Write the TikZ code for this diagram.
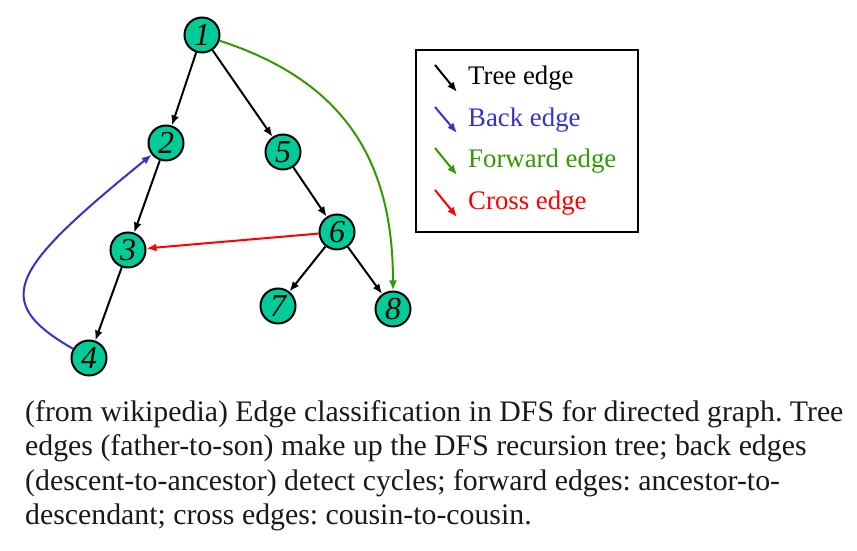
\documentclass[tikz,border=0pt]{standalone}
\usepackage{fontspec}
\setmainfont{Liberation Serif}
\usetikzlibrary{arrows.meta}
\definecolor{vertexfill}{RGB}{0,204,153}
\definecolor{backblue}{RGB}{51,51,204}
\definecolor{fwdgreen}{RGB}{51,153,0}
\definecolor{crossred}{RGB}{255,0,0}
\tikzset{
  vertex/.style={circle,draw=black,fill=vertexfill,line width=2pt,minimum size=35pt,inner sep=0pt,font=\fontsize{32}{32}\selectfont\itshape},
  edge/.style={line width=2pt,-{Latex[length=10pt,width=8pt]}},
  legendtext/.style={anchor=base west,inner sep=0pt,font=\fontsize{26.8}{32}\selectfont}
}
\begin{document}
\begin{tikzpicture}[x=1pt,y=1pt]
\useasboundingbox[fill=white] (0,0) rectangle (857,551);
% vertices
\node[vertex] (v1) at (202,516) {1};
\node[vertex] (v2) at (166,408) {2};
\node[vertex] (v5) at (283,399) {5};
\node[vertex] (v3) at (128,301) {3};
\node[vertex] (v6) at (337,319) {6};
\node[vertex] (v7) at (278,245) {7};
\node[vertex] (v8) at (393,242) {8};
\node[vertex] (v4) at (89,193) {4};
% tree edges
\draw[edge] (v1) -- (v2);
\draw[edge] (v1) -- (v5);
\draw[edge] (v2) -- (v3);
\draw[edge] (v3) -- (v4);
\draw[edge] (v5) -- (v6);
\draw[edge] (v6) -- (v7);
\draw[edge] (v6) -- (v8);
% back, forward, cross
\draw[edge,backblue] (v4) .. controls (-10,250) and (10,281) .. (v2);
\draw[edge,fwdgreen] (v1) to[out=-18,in=90,looseness=1.1] (v8);
\draw[edge,crossred] (v6) -- (v3);
% legend
\draw[line width=1.5pt] (416,501) rectangle (638,319);
\coordinate (ta) at (435,486); \coordinate (tb) at (457,459);
\coordinate (ba) at (435,444); \coordinate (bb) at (457,418);
\coordinate (fa) at (435,403); \coordinate (fb) at (457,376);
\coordinate (ca) at (435,361); \coordinate (cb) at (457,334);
\draw[edge] (ta) -- (tb);
\draw[edge,backblue] (ba) -- (bb);
\draw[edge,fwdgreen] (fa) -- (fb);
\draw[edge,crossred] (ca) -- (cb);
\node[legendtext] (tl) at (468,466) {Tree edge};
\node[legendtext,text=backblue] (bl) at (468,424) {Back edge};
\node[legendtext,text=fwdgreen] (fl) at (468,383) {Forward edge};
\node[legendtext,text=crossred] (cl) at (468,341) {Cross edge};
% caption
\node[anchor=north west,inner sep=0pt,align=left,text=black!90,font=\fontsize{29.8}{34.5}\selectfont\frenchspacing] (cap) at (25,151)
  {(from wikipedia) Edge classification in DFS for directed graph. Tree\\
   edges (father-to-son) make up the DFS recursion tree; back edges\\
   (descent-to-ancestor) detect cycles; forward edges: ancestor-to-\\
   descendant; cross edges: cousin-to-cousin.};
\end{tikzpicture}
\end{document}
